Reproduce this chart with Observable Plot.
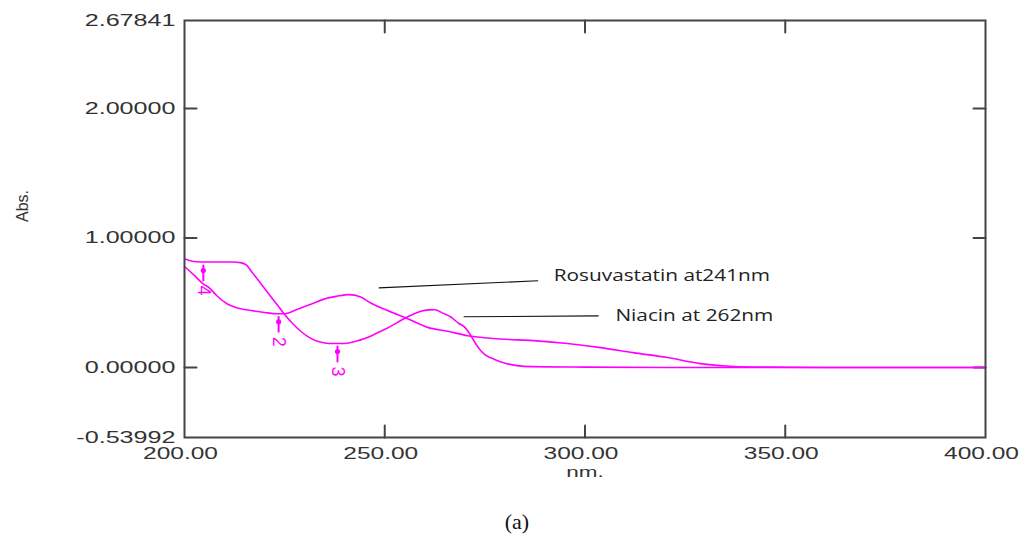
<!DOCTYPE html>
<html><head><meta charset="utf-8">
<script src="https://cdn.jsdelivr.net/npm/d3@7"></script>
<script src="https://cdn.jsdelivr.net/npm/@observablehq/plot@0.6"></script>
<style>
body{margin:0;background:#fff;}
#chart svg{display:block;}
#cap{font-family:"Liberation Serif","DejaVu Serif",serif;font-size:22px;line-height:24px;margin-top:30px;text-align:center;padding-left:15px;color:#111;}
</style></head><body>
<div id="chart"></div>
<div id="cap">(a)</div>
<script>
// Rosuvastatin spectrum (peak ~241 nm)
const rosuNm  = [200,202.5,204.5,206.2,208.2,210.7,213.2,216.7,220,223.2,225,228.2,231.7,235,238,241,244,246.4,250.7,255.7,260.7,265.7,270.7,278.9,287.1,295.6,303.9,312,320.6,328.8,337,345,360,400];
const rosuAbs = [0.78,0.71,0.65,0.615,0.55,0.49,0.46,0.44,0.425,0.415,0.415,0.45,0.49,0.53,0.55,0.563,0.545,0.50,0.44,0.377,0.31,0.28,0.246,0.22,0.208,0.185,0.154,0.115,0.077,0.03,0.008,0.003,0,0];
// Niacin spectrum (peak ~262 nm)
const niacinNm  = [200,202,204,208,212,214,215.5,217,219,221,223,225,227,229,231,233,235,237,239,241,243,245,247,249,251,253,255,257,259,261,262.5,264.5,266.5,268.5,270,271,272,273,274,275,276.5,278,280.5,283,287,300,320,400];
const niacinAbs = [0.84,0.82,0.815,0.815,0.815,0.81,0.79,0.73,0.65,0.57,0.49,0.41,0.34,0.28,0.235,0.205,0.19,0.185,0.185,0.19,0.205,0.225,0.25,0.28,0.31,0.345,0.38,0.41,0.435,0.445,0.446,0.42,0.39,0.34,0.31,0.27,0.22,0.17,0.13,0.1,0.075,0.055,0.03,0.015,0.007,0.003,0,0];
// Peak-pick markers
const markerNm    = [204.7, 223.5, 238.2];
const markerAbs   = [0.81, 0.415, 0.185];
const markerLabel = ["4", "2", "3"];
// Annotations
const annLabel = ["Rosuvastatin at241nm", "Niacin at 262nm"];
const annX1 = [248.5, 269.7], annY1 = [0.615, 0.392];
const annX2 = [288.3, 303.4], annY2 = [0.67, 0.398];
const annTx = [292.2, 307.6], annTy = [0.708, 0.40];
// Axes
const xTickValues = [200, 250, 300, 350, 400];
const xTickLabels = ["200.00", "250.00", "300.00", "350.00", "400.00"];
const yTickValues = [-0.53992, 0, 1, 2, 2.67841];
const yTickLabels = ["-0.53992", "0.00000", "1.00000", "2.00000", "2.67841"];
const xInnerTicks = [250, 300, 350];
const yInnerTicks = [0, 1, 2];
const xTitle = "nm.", yTitle = "Abs.";

const rosu = rosuNm.map((x, i) => ({x, y: rosuAbs[i]}));
const niacin = niacinNm.map((x, i) => ({x, y: niacinAbs[i]}));
const markers = markerNm.map((x, i) => ({x, y: markerAbs[i], label: markerLabel[i]}));
const anns = annLabel.map((t, i) => ({t, x1: annX1[i], y1: annY1[i], x2: annX2[i], y2: annY2[i], tx: annTx[i], ty: annTy[i]}));

const MAG = "#ff00ff", FRAME = "#444";
const lineShape = {draw(ctx, l) { ctx.moveTo(0, 0); ctx.lineTo(0, -l); }};
const tickOpts = {length: 12, anchor: "start", shape: lineShape, stroke: FRAME, strokeWidth: 2};

const chart = Plot.plot({
  width: 1019, height: 480,
  marginLeft: 184, marginRight: 34, marginTop: 20, marginBottom: 43,
  style: {fontFamily: "'Liberation Sans', Arial, sans-serif", color: "#333", background: "#fff"},
  x: {domain: [200, 400]},
  y: {domain: [-0.53992, 2.67841]},
  marks: [
    Plot.axisY(yTickValues, {tickSize: 0, tickPadding: 9, fontSize: 16, label: null,
      tickFormat: d => yTickLabels[yTickValues.indexOf(d)]}),
    Plot.axisX(xTickValues, {tickSize: 0, tickPadding: 10, fontSize: 16, label: null, dx: -4,
      tickFormat: d => xTickLabels[xTickValues.indexOf(d)]}),
    Plot.text([xTitle], {frameAnchor: "bottom", dy: 39, fontSize: 15, fill: "#333"}),
    Plot.text([yTitle], {frameAnchor: "left", dx: -162, dy: -7, rotate: -90, fontSize: 16, fill: "#333"}),
    Plot.vector(yInnerTicks, {y: d => d, frameAnchor: "left", rotate: 90, ...tickOpts}),
    Plot.vector(yInnerTicks, {y: d => d, frameAnchor: "right", rotate: -90, ...tickOpts}),
    Plot.vector(xInnerTicks, {x: d => d, frameAnchor: "top", rotate: 180, ...tickOpts}),
    Plot.vector(xInnerTicks, {x: d => d, frameAnchor: "bottom", rotate: 0, ...tickOpts}),
    Plot.line(rosu, {x: "x", y: "y", stroke: MAG, strokeWidth: 1.6, curve: "monotone-x"}),
    Plot.line(niacin, {x: "x", y: "y", stroke: MAG, strokeWidth: 1.6, curve: "monotone-x"}),
    Plot.dot(markers, {x: "x", y: "y", dy: 8, r: 2.6, fill: MAG, stroke: "none"}),
    Plot.vector(markers, {x: "x", y: "y", dy: 3, length: 15, rotate: 180, anchor: "start", shape: lineShape, stroke: MAG, strokeWidth: 2}),
    Plot.text(markers, {x: "x", y: "y", text: "label", dy: 28, rotate: 90, fontSize: 18, fill: MAG}),
    Plot.link(anns, {x1: "x1", y1: "y1", x2: "x2", y2: "y2", stroke: "#111", strokeWidth: 1.2}),
    Plot.text(anns, {x: "tx", y: "ty", text: "t", textAnchor: "start", fontSize: 16, fill: "#222",
      fontFamily: "'Open Sans', 'Noto Sans', sans-serif"}),
    Plot.frame({stroke: FRAME, strokeWidth: 2})
  ]
});
document.getElementById("chart").appendChild(chart);

function stretchWhere(pred, f) {
  chart.querySelectorAll("text").forEach(el => {
    if (!pred(el.textContent)) return;
    const w = el.getComputedTextLength();
    el.setAttribute("textLength", (w * f).toFixed(1));
    el.setAttribute("lengthAdjust", "spacingAndGlyphs");
  });
}
stretchWhere(t => yTickLabels.includes(t), 1.57);
stretchWhere(t => xTickLabels.includes(t), 1.53);
stretchWhere(t => t === xTitle, 1.5);
stretchWhere(t => annLabel.includes(t), 1.3);
</script>
</body></html>
